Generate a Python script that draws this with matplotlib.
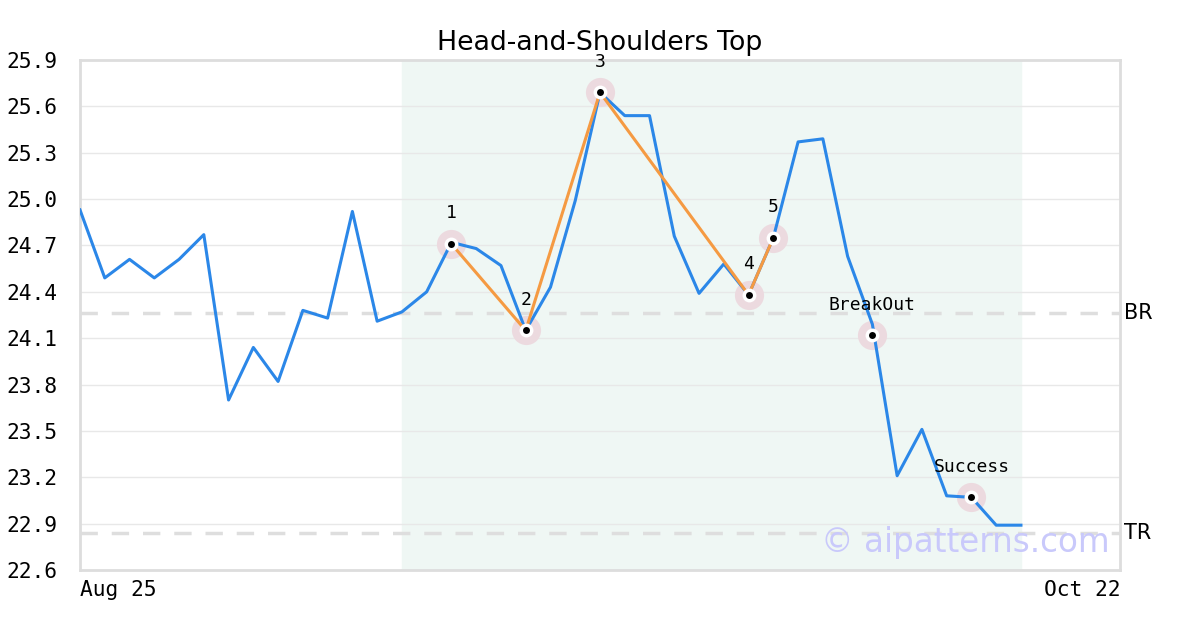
import numpy as np
import matplotlib
matplotlib.use("Agg")
import matplotlib.pyplot as plt

# price series, one value per trading day
prices = [24.93, 24.49, 24.61, 24.49, 24.61, 24.77, 23.70, 24.04, 23.82, 24.28,
          24.23, 24.92, 24.21, 24.27, 24.40, 24.72, 24.68, 24.57, 24.15, 24.43,
          24.99, 25.69, 25.54, 25.54, 24.76, 24.39, 24.58, 24.38, 24.75, 25.37,
          25.39, 24.63, 24.19, 23.21, 23.51, 23.08, 23.07, 22.89, 22.89]

# pattern points (index, value, label)
pat_idx = [15, 18, 21, 27, 28]
pat_val = [24.71, 24.15, 25.69, 24.38, 24.75]
pat_lab = ["1", "2", "3", "4", "5"]
extra_idx = [32, 36]
extra_val = [24.12, 23.07]
extra_lab = ["BreakOut", "Success"]

br_level = 24.26
tr_level = 22.84
shade_start, shade_end = 13, 38
n_slots = 42
x_labels = ["Aug 25", "Oct 22"]
y_ticks = np.round(np.arange(22.6, 25.91, 0.3), 1)

fig = plt.figure(figsize=(12, 6.3), dpi=100)
ax = fig.add_axes([80 / 1200, 60 / 630, 1040 / 1200, 510 / 630])

ax.axvspan(shade_start, shade_end, color="#eff7f4", zorder=0)
for yv in y_ticks:
    ax.axhline(yv, color="#e8e8e8", lw=1, zorder=1)
for lv in (br_level, tr_level):
    ax.axhline(lv, color="#dedede", lw=2.5, dashes=(5, 4), zorder=1)

mx = pat_idx + extra_idx
my = pat_val + extra_val
ml = pat_lab + extra_lab
# soft halo under the lines
ax.plot(mx, my, "o", ms=21, color="#ecdadf", mew=0, zorder=2)

x = np.arange(len(prices))
ax.plot(x, prices, color="#2b87e8", lw=2.2, zorder=3)
ax.plot(pat_idx, pat_val, color="#f59a42", lw=2.2, zorder=4)

ax.plot(mx, my, "o", ms=10, color="white", mew=0, zorder=6)
ax.plot(mx, my, "o", ms=5, color="black", mew=0, zorder=7)
for xi, yi, t in zip(mx, my, ml):
    ax.annotate(t, (xi, yi), xytext=(0, 15.5), textcoords="offset points",
                ha="center", va="bottom", fontsize=13, family="DejaVu Sans Mono",
                zorder=8)

ax.text(0.99, 0.022, "\u00a9 aipatterns.com", transform=ax.transAxes,
        ha="right", va="bottom", fontsize=23.5, color="#c9c9fb", zorder=9)

ax.set_xlim(0, n_slots)
ax.set_ylim(22.6, 25.9)
ax.set_yticks(y_ticks)
ax.set_yticklabels([f"{v:.1f}" for v in y_ticks], family="DejaVu Sans Mono", fontsize=15.3)
ax.set_xticks([0, n_slots])
ax.set_xticklabels(x_labels, family="DejaVu Sans Mono", fontsize=15.3)
xt = ax.get_xticklabels()
xt[0].set_ha("left")
xt[1].set_ha("right")
ax.tick_params(length=0)
ax.tick_params(axis="x", pad=7)
ax.tick_params(axis="y", pad=16)
for s in ax.spines.values():
    s.set_color("#dddddd")
    s.set_linewidth(2)

ax.text(1.004, br_level, "BR", transform=ax.get_yaxis_transform(), va="center",
        ha="left", fontsize=15)
ax.text(1.004, tr_level, "TR", transform=ax.get_yaxis_transform(), va="center",
        ha="left", fontsize=15)

ax.set_title("Head-and-Shoulders Top", fontsize=19.3, pad=7)

fig.savefig("out.png", dpi=100)
